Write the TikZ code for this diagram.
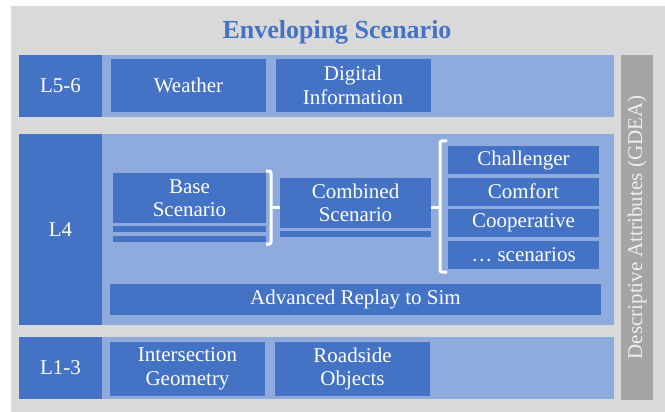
\documentclass[tikz,border=0pt]{standalone}
\usepackage{fontspec}
\setmainfont{Liberation Serif}
\usetikzlibrary{positioning}
\definecolor{envgrey}{HTML}{D9D9D9}
\definecolor{rowblue}{HTML}{8FAADC}
\definecolor{boxblue}{HTML}{4472C4}
\definecolor{attrgrey}{HTML}{A5A5A5}
\definecolor{attrtext}{HTML}{EFEFEF}

\begin{document}
\begin{tikzpicture}[x=1pt, y=-1pt]
	\tikzstyle{every node} = [rectangle, inner sep=0pt, align=center, text=white, font=\fontsize{21}{23.5}\selectfont]
	\tikzstyle{band} = [fill=rowblue, minimum width=595pt]
	\tikzstyle{lvl} = [fill=boxblue, minimum width=83pt]
	\tikzstyle{tile} = [fill=boxblue, minimum width=155pt, minimum height=54pt]
	\tikzstyle{strip} = [fill=boxblue, minimum height=6pt]
	\tikzstyle{kind} = [fill=boxblue, minimum width=151pt, minimum height=28pt]
	\tikzstyle{bracket} = [draw=white, line width=3pt, rounded corners=2pt]
	\useasboundingbox (0,0) rectangle (665,412);
	\node[fill=envgrey, minimum width=654pt, minimum height=406pt] (envelope) at (338,209) {};
	\node[text=boxblue, font=\fontsize{26}{30}\selectfont\bfseries] (title) at (337,32) {Enveloping Scenario};
	\node[band, minimum height=62pt]  (row56) at (316.5,86) {};
	\node[band, minimum height=191pt] (row4)  at (316.5,229.5) {};
	\node[band, minimum height=62pt]  (row13) at (316.5,368) {};
	\node[lvl, minimum height=62pt]  (l56) at (60.5,86) {L5-6};
	\node[lvl, minimum height=191pt] (l4)  at (60.5,229.5) {L4};
	\node[lvl, minimum height=62pt]  (l13) at (60.5,368) {L1-3};
	\node[tile, minimum height=53pt] (weather) at (188.5,85.5) {Weather};
	\node[tile, minimum height=53pt] (digital) at (353,85.5) {Digital\\Information};
	\node[tile] (intersection) at (187.5,369) {Intersection\\Geometry};
	\node[tile] (roadside)     at (352.5,369) {Roadside\\Objects};
	\node[fill=boxblue, minimum width=491pt, minimum height=31pt] (replay) at (355.5,299.5) {Advanced Replay to Sim};
	\node[fill=boxblue, minimum width=153pt, minimum height=50pt] (base) at (189.5,198) {Base\\Scenario};
	\node[strip, minimum width=153pt] (base1) at (189.5,229) {};
	\node[strip, minimum width=153pt] (base2) at (189.5,238.6) {};
	\node[fill=boxblue, minimum width=151pt, minimum height=50pt] (combined) at (355.5,203) {Combined\\Scenario};
	\node[strip, minimum width=151pt] (combined1) at (355.5,234) {};
	\node[kind] (challenger)  at (523.5,160) {Challenger};
	\node[kind] (comfort)     at (523.5,191.5) {Comfort};
	\node[kind] (cooperative) at (523.5,223) {Cooperative};
	\node[kind] (others)      at (523.5,254.5) {… scenarios};
	\node[fill=attrgrey, rotate=90, minimum width=345pt, minimum height=32pt, text=attrtext] (gdea) at (637,227.5) {Descriptive Attributes (GDEA)};
	\coordinate (b1) at (271,207.5);
	\coordinate (b2) at (440,207.5);
	\draw[bracket] (266,171) -- (271,171) -- (271,244) -- (266,244);
	\draw[bracket] (b1) -- (b1 -| combined.west);
	\draw[bracket] (447,141) -- (440,141) -- (440,272) -- (447,272);
	\draw[bracket] (b2 -| combined.east) -- (b2);
\end{tikzpicture}
\end{document}
